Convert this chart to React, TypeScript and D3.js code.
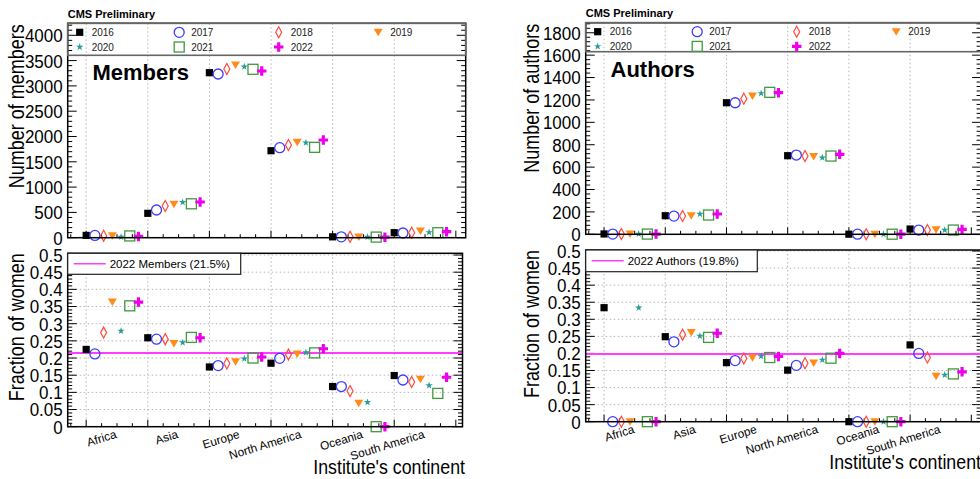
import React from 'react';
import * as d3 from 'd3';

const continents = ['Africa', 'Asia', 'Europe', 'North America', 'Oceania', 'South America'];
const years = ['2016', '2017', '2018', '2019', '2020', '2021', '2022'];

// Number of members, [year][continent]
const members = [
  [45, 482, 3261, 1719, 17, 99],
  [45, 547, 3235, 1779, 17, 93],
  [40, 626, 3334, 1832, 19, 99],
  [40, 660, 3413, 1885, 15, 132],
  [15, 700, 3379, 1878, 14, 106],
  [35, 670, 3328, 1786, 12, 99],
  [25, 705, 3294, 1931, 10, 119],
];
// Number of authors, [year][continent]
const authors = [
  [3, 166, 1175, 702, 1, 47],
  [2, 163, 1175, 708, 1, 38],
  [2, 163, 1211, 699, 1, 38],
  [2, 166, 1235, 696, 1, 40],
  [3, 181, 1259, 684, 1, 38],
  [2, 172, 1268, 699, 1, 38],
  [2, 181, 1265, 714, 1, 44],
];
// Fraction of women among members, [year][continent]
const fracMembers = [
  [0.225, 0.259, 0.174, 0.185, 0.117, 0.149],
  [0.212, 0.255, 0.178, 0.199, 0.117, 0.136],
  [0.274, 0.255, 0.184, 0.21, 0.104, 0.13],
  [0.363, 0.242, 0.189, 0.212, 0.068, 0.138],
  [0.279, 0.245, 0.198, 0.216, 0.071, 0.12],
  [0.352, 0.26, 0.2, 0.215, 0, 0.097],
  [0.363, 0.259, 0.203, 0.227, 0, 0.144],
];
// Fraction of women among authors, [year][continent]
const fracAuthors = [
  [0.334, 0.249, 0.173, 0.151, 0, 0.225],
  [0, 0.234, 0.179, 0.165, 0, 0.2],
  [0, 0.255, 0.185, 0.171, 0, 0.188],
  [0, 0.261, 0.187, 0.172, 0, 0.133],
  [0.334, 0.251, 0.192, 0.181, 0, 0.137],
  [0, 0.247, 0.188, 0.186, 0, 0.14],
  [0, 0.259, 0.191, 0.2, 0, 0.146],
];

const membersTicks = [0, 500, 1000, 1500, 2000, 2500, 3000, 3500, 4000];
const membersTickLabels = ['0', '500', '1000', '1500', '2000', '2500', '3000', '3500', '4000'];
const authorsTicks = [0, 200, 400, 600, 800, 1000, 1200, 1400, 1600, 1800];
const authorsTickLabels = ['0', '200', '400', '600', '800', '1000', '1200', '1400', '1600', '1800'];
const fracTicks = [0, 0.05, 0.1, 0.15, 0.2, 0.25, 0.3, 0.35, 0.4, 0.45, 0.5];
const fracTickLabels = ['0', '0.05', '0.1', '0.15', '0.2', '0.25', '0.3', '0.35', '0.4', '0.45', '0.5'];

const avgMembers2022 = 0.215;
const avgAuthors2022 = 0.198;

const FONT = "'Liberation Sans', Arial, Helvetica, sans-serif";
const colors = ['#000000', '#3c3cff', '#ff4a3d', '#ff8c1a', '#2a9a9a', '#3f9a3f', '#ee00ee'];
const yearStep = 0.1415;

function Marker({ k, x, y }: { k: number; x: number; y: number }) {
  const c = colors[k];
  switch (k) {
    case 0:
      return <rect x={x - 3.6} y={y - 3.6} width={7.2} height={7.2} fill={c} />;
    case 1:
      return <circle cx={x} cy={y} r={5} fill="none" stroke={c} strokeWidth={1.3} />;
    case 2:
      return (
        <path d={`M${x},${y - 5.5}L${x + 3},${y}L${x},${y + 5.5}L${x - 3},${y}Z`} fill="none" stroke={c} strokeWidth={1.2} />
      );
    case 3:
      return <path d={`M${x - 4.5},${y - 3.5}L${x + 4.5},${y - 3.5}L${x},${y + 4}Z`} fill={c} />;
    case 4:
      return <path d={d3.symbol(d3.symbolStar, 17)() as string} transform={`translate(${x},${y})`} fill={c} />;
    case 5:
      return <rect x={x - 5} y={y - 5} width={10} height={10} fill="none" stroke={c} strokeWidth={1.3} />;
    default:
      return <path d={d3.symbol(d3.symbolCross, 50)() as string} transform={`translate(${x},${y})`} fill={c} />;
  }
}

type PanelCfg = {
  x0: number;
  x1: number;
  xBotR: number;
  topY0: number;
  topY1: number;
  topMax: number;
  botY0: number;
  botY1: number;
  botMax: number;
  counts: number[][];
  fracs: number[][];
  countTicks: number[];
  countTickLabels: string[];
  countMinor: number;
  avg: number;
  name: string;
  countTitle: string;
  legendText: string;
  titleX: number;
  bigLabelX: number;
  bigLabelY: number;
  cmsY: number;
  legendH: number;
  botLegendW: number;
  botLegendH: number;
  xTitleY: number;
  xTitleX: number;
};

function Panel({ cfg }: { cfg: PanelCfg }) {
  const x = d3.scaleLinear().domain([-0.3, 6.16]).range([cfg.x0, cfg.x1]);
  const yTop = d3.scaleLinear().domain([0, cfg.topMax]).range([cfg.topY1, cfg.topY0]);
  const yBot = d3.scaleLinear().domain([0, cfg.botMax]).range([cfg.botY1, cfg.botY0]);
  const topR = Math.min(cfg.x1, 985);
  const botR = cfg.xBotR;
  const minorTop = d3.range(0, cfg.topMax, cfg.countMinor);
  const minorBot = d3.range(0, cfg.botMax, 0.01);
  const grid = '#b5b5b5';
  const els: React.ReactNode[] = [];

  // vertical dotted grid
  continents.forEach((_, i) => {
    els.push(
      <line key={`gt${i}`} x1={x(i)} x2={x(i)} y1={cfg.topY0} y2={cfg.topY1} stroke={grid} strokeWidth={1} strokeDasharray="1.5,2.5" />
    );
    els.push(
      <line key={`gb${i}`} x1={x(i)} x2={x(i)} y1={cfg.botY0} y2={cfg.botY1} stroke={grid} strokeWidth={1} strokeDasharray="1.5,2.5" />
    );
  });
  // horizontal grid in fraction panel
  fracTicks.forEach((t, i) => {
    els.push(
      <line key={`hg${i}`} x1={cfg.x0} x2={botR} y1={yBot(t)} y2={yBot(t)} stroke={grid} strokeWidth={1} strokeDasharray="1.5,2.5" />
    );
  });

  // ticks
  const tickPath: string[] = [];
  minorTop.forEach((t) => {
    const isMajor = cfg.countTicks.some((m) => Math.abs(m - t) < 1e-6);
    const L = isMajor ? 9 : 4.5;
    tickPath.push(`M${cfg.x0},${yTop(t)}h${L}`);
    tickPath.push(`M${topR},${yTop(t)}h${-L}`);
  });
  minorBot.forEach((t) => {
    const isMajor = Math.abs(t * 20 - Math.round(t * 20)) < 1e-6;
    const L = isMajor ? 9 : 4.5;
    tickPath.push(`M${cfg.x0},${yBot(t)}h${L}`);
    tickPath.push(`M${botR},${yBot(t)}h${-L}`);
  });
  d3.range(-0.25, 6.16, 0.25).forEach((t) => {
    const isMajor = Math.abs(t - Math.round(t)) < 1e-6;
    const L = isMajor ? 7 : 3.5;
    tickPath.push(`M${x(t)},${cfg.topY1}v${-L}`);
    tickPath.push(`M${x(t)},${cfg.botY1}v${-L}`);
  });
  els.push(<path key="ticks" d={tickPath.join('')} stroke="#000" strokeWidth={1} fill="none" />);

  // average line
  els.push(
    <line key="avg" x1={cfg.x0} x2={botR} y1={yBot(cfg.avg)} y2={yBot(cfg.avg)} stroke="#ff3dff" strokeWidth={2} />
  );

  // markers
  years.forEach((_, k) => {
    continents.forEach((_, i) => {
      const xv = x(i + k * yearStep);
      els.push(<Marker key={`mt${k}-${i}`} k={k} x={xv} y={yTop(cfg.counts[k][i])} />);
      els.push(<Marker key={`mb${k}-${i}`} k={k} x={xv} y={yBot(cfg.fracs[k][i])} />);
    });
  });

  // frames
  els.push(
    <rect key="ft" x={cfg.x0} y={cfg.topY0} width={topR - cfg.x0} height={cfg.topY1 - cfg.topY0} fill="none" stroke="#000" strokeWidth={1.5} />
  );
  els.push(
    <rect key="fb" x={cfg.x0} y={cfg.botY0} width={botR - cfg.x0} height={cfg.botY1 - cfg.botY0} fill="none" stroke="#000" strokeWidth={1.5} />
  );

  // top legend
  els.push(
    <rect key="lg" x={cfg.x0} y={cfg.topY0} width={topR - cfg.x0} height={cfg.legendH} fill="none" stroke="#666" strokeWidth={1.6} />
  );
  years.forEach((yr, k) => {
    const col = k % 4;
    const row = Math.floor(k / 4);
    const lx = cfg.x0 + 12 + col * 99.5;
    const ly = cfg.topY0 + 9 + row * 14.7;
    els.push(<Marker key={`lm${k}`} k={k} x={lx} y={ly} />);
    els.push(
      <text key={`lt${k}`} x={lx + 12} y={ly} dy="0.35em" fontSize={10} fontFamily={FONT} fill="#222">
        {yr}
      </text>
    );
  });

  // bottom legend
  const bly = cfg.botY0 + cfg.botLegendH / 2;
  els.push(
    <rect key="bl" x={cfg.x0} y={cfg.botY0} width={cfg.botLegendW} height={cfg.botLegendH} fill="#fff" stroke="#222" strokeWidth={1.2} />
  );
  els.push(<line key="bll" x1={cfg.x0 + 6} x2={cfg.x0 + 38} y1={bly} y2={bly} stroke="#ff3dff" strokeWidth={1.5} />);
  els.push(
    <text key="blt" x={cfg.x0 + 42} y={bly} dy="0.36em" fontSize={11.5} fontFamily={FONT} fill="#000">
      {cfg.legendText}
    </text>
  );

  // y tick labels (slightly tall glyphs, as in the original rendering)
  const tickLabel = (key: string, yy: number, label: string) => (
    <g key={key} transform={`translate(${cfg.x0 - 5},${yy}) scale(1,1.13)`}>
      <text x={0} y={0} dy="0.36em" textAnchor="end" fontSize={17} fontFamily={FONT}>
        {label}
      </text>
    </g>
  );
  cfg.countTicks.forEach((t, i) => els.push(tickLabel(`ytl${i}`, yTop(t), cfg.countTickLabels[i])));
  fracTicks.forEach((t, i) => els.push(tickLabel(`ybl${i}`, yBot(t), fracTickLabels[i])));

  // x labels
  continents.forEach((c, i) => {
    const lx = x(i) + 31;
    const ly = cfg.botY1 + 11;
    els.push(
      <text key={`xl${i}`} x={lx} y={ly} textAnchor="end" fontSize={11.8} fontFamily={FONT} transform={`rotate(-17,${lx},${ly})`}>
        {c}
      </text>
    );
  });

  // titles
  els.push(
    <g key="yt1" transform={`translate(${cfg.titleX},${cfg.topY0 + 1}) rotate(-90) scale(1,1.18)`}>
      <text x={0} y={0} textAnchor="end" fontSize={18} fontFamily={FONT}>
        {cfg.countTitle}
      </text>
    </g>
  );
  els.push(
    <g key="yt2" transform={`translate(${cfg.titleX},${cfg.botY0}) rotate(-90) scale(1,1.18)`}>
      <text x={0} y={0} textAnchor="end" fontSize={18} fontFamily={FONT}>
        Fraction of women
      </text>
    </g>
  );
  els.push(
    <g key="xt" transform={`translate(${cfg.xTitleX},${cfg.xTitleY}) scale(1,1.1)`}>
      <text x={0} y={0} textAnchor="end" fontSize={17.8} fontFamily={FONT}>
        Institute's continent
      </text>
    </g>
  );
  els.push(
    <text key="cms" x={cfg.x0} y={cfg.cmsY} fontSize={11} fontWeight="bold" fontFamily={FONT}>
      CMS Preliminary
    </text>
  );
  els.push(
    <text key="big" x={cfg.bigLabelX} y={cfg.bigLabelY} fontSize={22} fontWeight="bold" fontFamily={FONT}>
      {cfg.name}
    </text>
  );

  return <g>{els}</g>;
}

const leftCfg: PanelCfg = {
  x0: 67.7,
  x1: 465.7,
  xBotR: 462.5,
  topY0: 23.3,
  topY1: 237.7,
  topMax: 4237,
  botY0: 253.3,
  botY1: 426.7,
  botMax: 0.505,
  counts: members,
  fracs: fracMembers,
  countTicks: membersTicks,
  countTickLabels: membersTickLabels,
  countMinor: 100,
  avg: avgMembers2022,
  name: 'Members',
  countTitle: 'Number of members',
  legendText: '2022 Members (21.5%)',
  titleX: 24,
  bigLabelX: 92.5,
  bigLabelY: 80,
  cmsY: 18,
  legendH: 32,
  botLegendW: 173,
  botLegendH: 21,
  xTitleY: 474,
  xTitleX: 465,
};

const rightCfg: PanelCfg = {
  x0: 585.7,
  x1: 981.1,
  xBotR: 981.1,
  topY0: 22.7,
  topY1: 234.3,
  topMax: 1890,
  botY0: 250,
  botY1: 421.7,
  botMax: 0.503,
  counts: authors,
  fracs: fracAuthors,
  countTicks: authorsTicks,
  countTickLabels: authorsTickLabels,
  countMinor: 40,
  avg: avgAuthors2022,
  name: 'Authors',
  countTitle: 'Number of authors',
  legendText: '2022 Authors (19.8%)',
  titleX: 539,
  bigLabelX: 610.5,
  bigLabelY: 77,
  cmsY: 17,
  legendH: 29,
  botLegendW: 171.6,
  botLegendH: 21.7,
  xTitleY: 469,
  xTitleX: 981,
};

export default function App() {
  return (
    <svg
      width={980}
      height={479}
      viewBox="0 0 980 479"
      style={{ position: 'absolute', left: 0, top: 0, background: '#fff', display: 'block' }}
    >
      <rect x={0} y={0} width={980} height={479} fill="#fff" />
      <Panel cfg={leftCfg} />
      <Panel cfg={rightCfg} />
    </svg>
  );
}
